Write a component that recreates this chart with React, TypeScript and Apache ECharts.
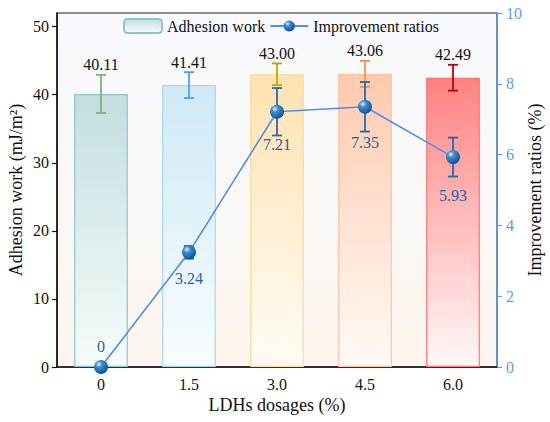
import React, { useEffect, useRef } from "react";
import * as echarts from "echarts";

const categories = ["0", "1.5", "3.0", "4.5", "6.0"];
const adhesionWork = [40.11, 41.41, 43.0, 43.06, 42.49];
const adhesionErr = [2.8, 1.9, 1.6, 1.9, 1.9];
const improvementRatios = [0, 3.24, 7.21, 7.35, 5.93];
const improvementErr = [0, 0.18, 0.67, 0.7, 0.55];
const leftTicks = [0, 10, 20, 30, 40, 50];

const barTopColors = ["#C3DEDF", "#CFE9F5", "#FFE2B0", "#FFCAAE", "#FF8282"];
const barBottomColors = ["#F6FBFB", "#F8FCFE", "#FFFCF6", "#FFFAF6", "#FFF8F8"];
const barBorderColors = ["#8DC6CA", "#A6D8EC", "#FFD99A", "#FFC2A4", "#FF7474"];
const errColors = ["#7DB46C", "#4BA2EC", "#C3A400", "#F5924A", "#C00000"];
const ratioLabelGap = [6, 11, 18, 21, 23];

const FONT = "Liberation Serif";

function grad(top: string, bottom: string) {
  return new echarts.graphic.LinearGradient(0, 0, 0, 1, [
    { offset: 0, color: top },
    { offset: 1, color: bottom },
  ]);
}

export default function App() {
  const ref = useRef<HTMLDivElement>(null);
  useEffect(() => {
    document.body.style.margin = "0";
    const chart = echarts.init(ref.current!, null, { renderer: "svg" });
    const sphere = new echarts.graphic.RadialGradient(0.35, 0.3, 0.75, [
      { offset: 0, color: "#E8F4FF" },
      { offset: 0.3, color: "#3E8FD0" },
      { offset: 1, color: "#0C4E8C" },
    ]);
    const errRender = (colors: string[] | string, withLabel: boolean) =>
      (params: any, api: any) => {
        const i = api.value(0);
        const m = api.value(1);
        const e = api.value(2);
        const top = api.coord([i, m + e]);
        const bot = api.coord([i, m - e]);
        const x = top[0];
        const c = Array.isArray(colors) ? colors[params.dataIndex] : colors;
        const style = { stroke: c, lineWidth: 1.8 };
        const children: any[] = [];
        if (e > 0) {
          children.push(
            { type: "line", shape: { x1: x, y1: top[1], x2: x, y2: bot[1] }, style },
            { type: "line", shape: { x1: x - 5, y1: top[1], x2: x + 5, y2: top[1] }, style },
            { type: "line", shape: { x1: x - 5, y1: bot[1], x2: x + 5, y2: bot[1] }, style }
          );
        }
        if (withLabel) {
          children.push({
            type: "text",
            x,
            y: top[1] - 2,
            style: {
              text: m.toFixed(2),
              align: "center",
              verticalAlign: "bottom",
              fontSize: 16,
              fontFamily: FONT,
              fill: "#111",
            },
          });
        }
        return { type: "group", children };
      };

    chart.setOption({
      animation: false,
      textStyle: { fontFamily: FONT },
      legend: {
        data: ["Adhesion work", "Improvement ratios"],
        left: 118,
        top: 13,
        itemWidth: 38,
        itemHeight: 14,
        itemGap: 4,
        textStyle: { fontSize: 16, fontFamily: FONT, color: "#111" },
      },
      grid: {
        left: 57,
        right: 53,
        top: 13,
        bottom: 55,
        containLabel: false,
        outerBoundsMode: "none",
        show: true,
        borderColor: "#222",
        borderWidth: 1.2,
        backgroundColor: grad("#F7F9FE", "#FEF6EE"),
      },
      xAxis: {
        type: "category",
        data: categories,
        name: "LDHs dosages (%)",
        nameLocation: "middle",
        nameGap: 29,
        nameMoveOverlap: false,
        nameTextStyle: { fontSize: 18, fontFamily: FONT, color: "#111" },
        axisLine: { lineStyle: { color: "#111", width: 1.5 } },
        axisTick: { alignWithLabel: true, length: 5, lineStyle: { color: "#111", width: 1.2 } },
        axisLabel: { fontSize: 16, fontFamily: FONT, color: "#111", margin: 9 },
      },
      yAxis: [
        {
          type: "value",
          min: 0,
          max: 52,
          interval: 10,
          name: "Adhesion work (mJ/m²)",
          nameLocation: "middle",
          nameGap: 32,
          nameMoveOverlap: false,
          nameTextStyle: { fontSize: 18, fontFamily: FONT, color: "#111" },
          axisLine: { show: true, lineStyle: { color: "#111", width: 1.5 } },
          axisTick: { show: true, length: 5, customValues: leftTicks, lineStyle: { color: "#111", width: 1.2 } },
          axisLabel: { fontSize: 16, fontFamily: FONT, color: "#111", customValues: leftTicks, margin: 8 },
          splitLine: { show: false },
        },
        {
          type: "value",
          min: 0,
          max: 10,
          interval: 2,
          position: "right",
          name: "Improvement ratios (%)",
          nameLocation: "middle",
          nameGap: 29,
          nameRotate: 90,
          nameMoveOverlap: false,
          nameTextStyle: { fontSize: 18, fontFamily: FONT, color: "#111" },
          axisLine: { show: true, lineStyle: { color: "#5B9BEF", width: 1.5 } },
          axisTick: { show: true, length: 5, lineStyle: { color: "#5B9BEF", width: 1.2 } },
          axisLabel: { fontSize: 16, fontFamily: FONT, color: "#5B9BEF", margin: 9 },
          splitLine: { show: false },
        },
      ],
      series: [
        {
          name: "Adhesion work",
          type: "bar",
          barWidth: "61%",
          itemStyle: {
            color: grad(barTopColors[0], "#F8FCFC"),
            borderColor: barBorderColors[0],
            borderWidth: 1.2,
          },
          data: adhesionWork.map((v, i) => ({
            value: v,
            itemStyle: {
              color: grad(barTopColors[i], barBottomColors[i]),
              borderColor: barBorderColors[i],
              borderWidth: 1.2,
            },
          })),
          z: 2,
        },
        {
          type: "custom",
          name: "adhesionErr",
          renderItem: errRender(errColors, true),
          encode: { x: 0, y: 1 },
          data: adhesionWork.map((v, i) => [i, v, adhesionErr[i]]),
          z: 3,
        },
        {
          type: "custom",
          name: "ratioErr",
          yAxisIndex: 1,
          renderItem: errRender("#1E6BB3", false),
          encode: { x: 0, y: 1 },
          data: improvementRatios.map((v, i) => [i, v, improvementErr[i]]),
          z: 4,
        },
        {
          name: "Improvement ratios",
          type: "line",
          yAxisIndex: 1,
          symbol: "circle",
          symbolSize: 14,
          lineStyle: { color: "#4F8FEA", width: 1.6 },
          itemStyle: { color: sphere, borderWidth: 0 },
          label: {
            show: true,
            fontSize: 16,
            fontFamily: FONT,
            color: "#1E64A8",
            formatter: "{c}",
          },
          data: improvementRatios.map((v, i) => ({
            value: v,
            label: { position: i === 0 ? "top" : "bottom", distance: ratioLabelGap[i] },
          })),
          z: 5,
        },
      ],
    });
    return () => chart.dispose();
  }, []);
  return <div ref={ref} style={{ width: 550, height: 422 }} />;
}
